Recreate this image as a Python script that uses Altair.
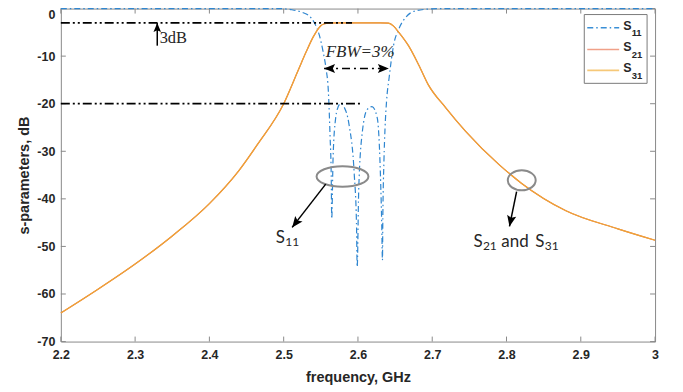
import math
import altair as alt
import pandas as pd

# ---------------- data ----------------
freq_s11 = [2.20, 2.49, 2.50, 2.511, 2.525, 2.534, 2.542, 2.548, 2.553, 2.557,
            2.5602, 2.5625, 2.564, 2.5647, 2.5665, 2.570, 2.5735, 2.577, 2.581,
            2.588, 2.595, 2.598, 2.599, 2.601, 2.606, 2.6125, 2.619, 2.626,
            2.6295, 2.632, 2.633, 2.6335, 2.635, 2.6365, 2.6385, 2.642, 2.648,
            2.655, 2.664, 2.677, 2.695, 2.71, 3.00]
s11_db = [0, 0, -0.05, -0.25, -0.8, -1.5, -3.2, -5.6, -9, -12.6,
          -17.5, -27, -35, -44.2, -31.4, -23, -20.6, -19.9, -20.6,
          -24.4, -34.8, -45, -54.3, -38.3, -25.8, -21.2, -20.6, -23,
          -31.4, -45.2, -52.9, -44, -32, -25, -19.5, -14.5, -7.7,
          -4.3, -1.9, -0.5, -0.1, 0, 0]

freq_s2x = [2.20, 2.25, 2.30, 2.35, 2.40, 2.44, 2.465, 2.50, 2.52, 2.53, 2.54,
            2.55, 2.555, 2.56, 2.57, 2.60, 2.63, 2.641, 2.648, 2.655, 2.668,
            2.682, 2.695, 2.718, 2.745, 2.79, 2.82, 2.88, 2.95, 3.00]
s21_db = [-64, -59, -53.7, -47.8, -41, -34, -28.5, -20, -12.8, -9.2, -5.9,
          -3.6, -3.2, -3.05, -3, -3, -3, -3.05, -3.7, -5, -7.8,
          -11.9, -16.1, -20.8, -25.8, -32.8, -36.7, -42.5, -46.3, -48.7]
s31_db = [-64, -59, -53.7, -47.8, -41, -34, -28.5, -20, -12.8, -9.2, -5.9,
          -3.6, -3.2, -3.05, -3, -3, -3, -3.05, -3.7, -5, -7.8,
          -11.9, -16.1, -20.8, -25.8, -32.8, -36.7, -42.5, -46.3, -48.7]

x_ticks = [2.2, 2.3, 2.4, 2.5, 2.6, 2.7, 2.8, 2.9, 3.0]
y_ticks = [-70, -60, -50, -40, -30, -20, -10, 0]

# reference (dash-dot-dot) lines: start, end, level
ref_start = [2.2, 2.2]
ref_end = [2.592, 2.605]
ref_level = [-3, -20]

# FBW double arrow
fbw_left, fbw_right, fbw_level = 2.5544, 2.6416, -12.6
fbw_text_f, fbw_text_db = 2.603, -9.2

# 3dB arrow (tail -> tip)
a3_f, a3_tail, a3_tip = 2.3298, -7.8, -3.05
t3_f, t3_db = 2.333, -6.1

# ellipses (centre)
ell_f = [2.5792, 2.8205]
ell_db = [-35.3, -36.1]

# pointer arrows: tail (f, db) -> tip (f2, db2)
arr_f = [2.5566, 2.8136]
arr_db = [-36.9, -38.5]
arr_f2 = [2.5114, 2.8040]
arr_db2 = [-46.0, -45.8]

# labels
lab_s11_f, lab_s11_db = 2.4893, -48.3
lab_s2_f, lab_s2_db = 2.7555, -49.1

# ---------------- layout ----------------
W, H = 596, 334
X0, X1, Y0, Y1 = 2.2, 3.0, -70, 0
kx = W / (X1 - X0)
ky = H / (Y1 - Y0)

GREY = "#8a8a8a"
TXT = "#262626"
BLUE = "#2f86d0"
RED = "#e0704e"
ORANGE = "#f0a535"
SANS = "Liberation Sans, Arial, sans-serif"
SERIF = "Liberation Serif, Times New Roman, serif"
CAL = "Lato, Open Sans, sans-serif"

xscale = alt.Scale(domain=[X0, X1], nice=False, zero=False)
yscale = alt.Scale(domain=[Y0, Y1], nice=False, zero=False)

xaxis = alt.Axis(values=x_ticks, labelExpr="'' + datum.value", ticks=False, tickSize=0,
                 domain=False, grid=False, labelFlush=False, labelFont=SANS,
                 labelFontSize=12.5, labelFontWeight="bold", labelColor=TXT,
                 labelPadding=7, titleFont=SANS, titleFontSize=14.5,
                 titleFontWeight="bold", titleColor=TXT, titlePadding=10)
yaxis = alt.Axis(values=y_ticks, labelExpr="'' + datum.value", ticks=False, tickSize=0,
                 domain=False, grid=False, labelFlush=False, labelFont=SANS,
                 labelFontSize=12.5, labelFontWeight="bold", labelColor=TXT,
                 labelPadding=6, titleFont=SANS, titleFontSize=14.5,
                 titleFontWeight="bold", titleColor=TXT, titlePadding=5,
                 labelBaseline={"condition": {"test": "datum.value == 0", "value": "top"},
                                "value": "middle"})


def X(field="f"):
    return alt.X(f"{field}:Q", scale=xscale, axis=xaxis, title="frequency, GHz")


def Y(field="db"):
    return alt.Y(f"{field}:Q", scale=yscale, axis=yaxis, title="s-parameters, dB")


def ang(f1, d1, f2, d2):
    dx = (f2 - f1) * kx
    dy = -(d2 - d1) * ky
    return math.degrees(math.atan2(dy, dx)) % 360


HEAD = "M0,0 L-1,-0.42 L-0.8,0 L-1,0.42 Z"


def ellipse_path(r):
    k = 0.5523
    return (f"M1,0 C1,{k*r:.4f} {k:.4f},{r:.4f} 0,{r:.4f} "
            f"C{-k:.4f},{r:.4f} -1,{k*r:.4f} -1,0 "
            f"C-1,{-k*r:.4f} {-k:.4f},{-r:.4f} 0,{-r:.4f} "
            f"C{k:.4f},{-r:.4f} 1,{-k*r:.4f} 1,0 Z")


layers = []

# inward ticks
xt = pd.DataFrame({"f": x_ticks})
yt = pd.DataFrame({"db": y_ticks})
layers.append(alt.Chart(xt).mark_rule(color=GREY, strokeWidth=1).encode(
    x=X(), y=alt.value(H), y2=alt.value(H - 5)))
layers.append(alt.Chart(xt).mark_rule(color=GREY, strokeWidth=1).encode(
    x=X(), y=alt.value(0), y2=alt.value(5)))
layers.append(alt.Chart(yt).mark_rule(color=GREY, strokeWidth=1).encode(
    y=Y(), x=alt.value(0), x2=alt.value(5)))
layers.append(alt.Chart(yt).mark_rule(color=GREY, strokeWidth=1).encode(
    y=Y(), x=alt.value(W), x2=alt.value(W - 5)))

# curves
df11 = pd.DataFrame({"f": freq_s11, "db": s11_db})
df21 = pd.DataFrame({"f": freq_s2x, "db": s21_db})
df31 = pd.DataFrame({"f": freq_s2x, "db": s31_db})
layers.append(alt.Chart(df11).mark_line(color=BLUE, strokeWidth=1.2, strokeDash=[6, 3, 1.5, 3],
                                        interpolate="monotone").encode(x=X(), y=Y()))
layers.append(alt.Chart(df21).mark_line(color=RED, strokeWidth=1.2,
                                        interpolate="monotone").encode(x=X(), y=Y()))
layers.append(alt.Chart(df31).mark_line(color=ORANGE, strokeWidth=1.2,
                                        interpolate="monotone").encode(x=X(), y=Y()))

# reference lines
dref = pd.DataFrame({"f": ref_start, "f2": ref_end, "db": ref_level})
layers.append(alt.Chart(dref).mark_rule(color="black", strokeWidth=1.8,
                                        strokeDash=[9, 3, 2, 3, 2, 3]).encode(
    x=X(), x2=alt.X2("f2:Q"), y=Y()))

# FBW arrow
dfbw = pd.DataFrame({"f": [fbw_left], "f2": [fbw_right], "db": [fbw_level]})
layers.append(alt.Chart(dfbw).mark_rule(color="black", strokeWidth=1.5,
                                        strokeDash=[8, 4, 2, 4]).encode(
    x=X(), x2=alt.X2("f2:Q"), y=Y()))
dfbwh = pd.DataFrame({"f": [fbw_left, fbw_right], "db": [fbw_level, fbw_level],
                      "a": [180.0, 0.0]})
layers.append(alt.Chart(dfbwh).mark_point(shape=HEAD, filled=True, size=484, opacity=1,
                                          color="black").encode(
    x=X(), y=Y(), angle=alt.Angle("a:Q", scale=None)))
layers.append(alt.Chart(pd.DataFrame({"f": [fbw_text_f], "db": [fbw_text_db]})).mark_text(
    text="FBW=3%", font=SERIF, fontStyle="italic", fontSize=17, color=TXT,
    align="center", baseline="middle").encode(x=X(), y=Y()))

# 3dB arrow
d3 = pd.DataFrame({"f": [a3_f], "db": [a3_tail], "db2": [a3_tip]})
layers.append(alt.Chart(d3).mark_rule(color="black", strokeWidth=1.5).encode(
    x=X(), y=Y(), y2=alt.Y2("db2:Q")))
layers.append(alt.Chart(pd.DataFrame({"f": [a3_f], "db": [a3_tip]})).mark_point(
    shape=HEAD, filled=True, size=324, opacity=1, color="black", angle=270).encode(x=X(), y=Y()))
layers.append(alt.Chart(pd.DataFrame({"f": [t3_f], "db": [t3_db]})).mark_text(
    text="3dB", font=SERIF, fontSize=16.5, color=TXT, align="left", baseline="middle").encode(
    x=X(), y=Y()))

# ellipses
layers.append(alt.Chart(pd.DataFrame({"f": [ell_f[0]], "db": [ell_db[0]]})).mark_point(
    shape=ellipse_path(20.5 / 52), filled=False, size=52 ** 2, color=GREY, strokeWidth=2,
    opacity=1).encode(x=X(), y=Y()))
layers.append(alt.Chart(pd.DataFrame({"f": [ell_f[1]], "db": [ell_db[1]]})).mark_point(
    shape=ellipse_path(20 / 28), filled=False, size=28 ** 2, color=GREY, strokeWidth=2,
    opacity=1).encode(x=X(), y=Y()))

# pointer arrows
darr = pd.DataFrame({"f": arr_f, "db": arr_db, "f2": arr_f2, "db2": arr_db2})
layers.append(alt.Chart(darr).mark_rule(color="black", strokeWidth=1.5).encode(
    x=X(), y=Y(), x2=alt.X2("f2:Q"), y2=alt.Y2("db2:Q")))
dheads = pd.DataFrame({"f": arr_f2, "db": arr_db2,
                       "a": [ang(arr_f[i], arr_db[i], arr_f2[i], arr_db2[i]) for i in range(2)]})
layers.append(alt.Chart(dheads).mark_point(shape=HEAD, filled=True, size=484, opacity=1,
                                           color="black").encode(
    x=X(), y=Y(), angle=alt.Angle("a:Q", scale=None)))

# labels with subscripts
def txt(f, d, s, size, dx=0, dy=0, weight="normal"):
    return alt.Chart(pd.DataFrame({"f": [f], "db": [d]})).mark_text(
        text=s, font=CAL, fontSize=size, color=TXT, align="left", baseline="middle",
        dx=dx, dy=dy, fontWeight=weight).encode(x=X(), y=Y())


layers.append(txt(lab_s11_f, lab_s11_db, "S", 17))
layers.append(txt(lab_s11_f, lab_s11_db, "11", 12, dx=9.5, dy=4))
layers.append(txt(lab_s2_f, lab_s2_db, "S", 17))
layers.append(txt(lab_s2_f, lab_s2_db, "21", 12, dx=9.5, dy=4))
layers.append(txt(lab_s2_f, lab_s2_db, "and", 17, dx=28))
layers.append(txt(lab_s2_f, lab_s2_db, "S", 17, dx=62))
layers.append(txt(lab_s2_f, lab_s2_db, "31", 12, dx=71.5, dy=4))

# legend (drawn in pixels)
one = pd.DataFrame({"k": [0]})
LX0, LX1, LY0, LY1 = 525, 588, 6, 75
layers.append(alt.Chart(one).mark_rect(fill="white", stroke="#7a7a7a", strokeWidth=1).encode(
    x=alt.value(LX0), x2=alt.value(LX1), y=alt.value(LY0), y2=alt.value(LY1)))
leg_names = ["11", "21", "31"]
leg_colors = ["#3a8fd6", "#f0a088", "#f6c878"]
leg_dash = [[6, 3, 1.5, 3], [1, 0], [1, 0]]
leg_y = [19.3, 41, 62]
for nm, c, dsh, yy in zip(leg_names, leg_colors, leg_dash, leg_y):
    layers.append(alt.Chart(one).mark_rule(color=c, strokeWidth=1.6, strokeDash=dsh).encode(
        x=alt.value(528), x2=alt.value(560), y=alt.value(yy)))
    layers.append(alt.Chart(one).mark_text(text="S", font=SANS, fontSize=12.5, fontWeight="bold",
                                           color=TXT, align="left", baseline="middle").encode(
        x=alt.value(564), y=alt.value(yy - 2)))
    layers.append(alt.Chart(one).mark_text(text=nm, font=SANS, fontSize=9.5, fontWeight="bold",
                                           color=TXT, align="left", baseline="middle").encode(
        x=alt.value(572.5), y=alt.value(yy + 5.5)))

chart = alt.layer(*layers).properties(
    width=W, height=H,
    autosize=alt.AutoSizeParams(type="none"),
    padding={"left": 53, "top": 0, "right": 20, "bottom": 45},
).configure_view(stroke=GREY, strokeWidth=1)

chart.save("out.html", embed_options={"renderer": "svg", "actions": False})
